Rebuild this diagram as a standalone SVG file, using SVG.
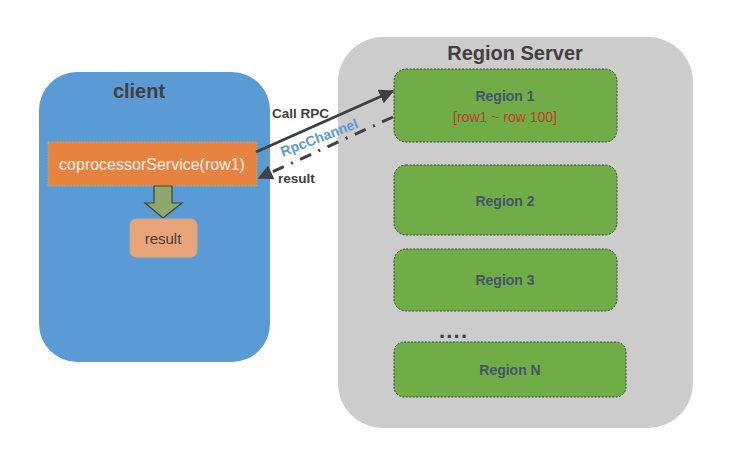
<svg xmlns="http://www.w3.org/2000/svg" width="740" height="450" viewBox="0 0 740 450">
<defs>
<style>
.t{font-family:"Liberation Sans",Arial,sans-serif;}
.rg{fill:#70ad47;stroke:#3f3f3f;stroke-width:1;stroke-dasharray:2 1.5;}
.rt{font-family:"Liberation Sans",Arial,sans-serif;font-size:14px;font-weight:bold;fill:#44546a;text-anchor:middle;}
.lbl{font-family:"Liberation Sans",Arial,sans-serif;font-size:13.5px;font-weight:bold;fill:#404040;}
</style>
<marker id="ah" viewBox="0 0 10 10" refX="9" refY="5" markerWidth="5" markerHeight="5" orient="auto">
<path d="M0,0 L10,5 L0,10 z" fill="#404040"/>
</marker>
</defs>
<rect width="740" height="450" fill="#ffffff"/>
<g id="client">
<rect x="39" y="72" width="231" height="290" rx="38" fill="#5b9bd5"/>
<text class="t" x="139" y="98" font-size="20" font-weight="bold" fill="#404040" text-anchor="middle">client</text>
</g>
<g id="coprocessorService">
<rect x="48" y="142" width="209" height="44" fill="#e8833f" stroke="#a8c070" stroke-width="0.8" stroke-dasharray="1.5 1.5"/>
<text class="t" x="152" y="170" font-size="16" fill="#f2f2f2" text-anchor="middle">coprocessorService(row1)</text>
</g>
<g id="down-arrow">
<path d="M154,186 L172,186 L172,203 L182,203 L163,218 L145,203 L154,203 Z" fill="#8fa86a" stroke="#404040" stroke-width="1.2"/>
</g>
<g id="result">
<rect x="130" y="219" width="67" height="38" rx="6" fill="#eaa479" stroke="#c9b080" stroke-width="0.8"/>
<text class="t" x="163" y="244" font-size="15" fill="#404040" text-anchor="middle">result</text>
</g>
<g id="region-server">
<rect x="338" y="37" width="355" height="391" rx="45" fill="#cccccc"/>
<text class="t" x="515" y="60" font-size="20" font-weight="bold" fill="#404040" text-anchor="middle">Region Server</text>
</g>
<g id="region1">
<rect class="rg" x="394" y="69" width="223" height="73" rx="12"/>
<text class="rt" x="505" y="101">Region 1</text>
<text class="t" x="505" y="122" font-size="14" fill="#c0392b" text-anchor="middle">[row1 ~ row 100]</text>
</g>
<g id="region2">
<rect class="rg" x="394" y="165" width="223" height="70" rx="12"/>
<text class="rt" x="505" y="206">Region 2</text>
</g>
<g id="region3">
<rect class="rg" x="394" y="249" width="223" height="62" rx="12"/>
<text class="rt" x="505" y="285">Region 3</text>
</g>
<g id="dots">
<text class="t" x="439" y="338" font-size="22" font-weight="bold" letter-spacing="1.2" fill="#404040">....</text>
</g>
<g id="regionN">
<rect class="rg" x="394" y="342" width="232" height="55" rx="10"/>
<text class="rt" x="510" y="375">Region N</text>
</g>
<g id="connectors">
<line x1="256" y1="152" x2="393" y2="91" stroke="#404040" stroke-width="3" marker-end="url(#ah)"/>
<line x1="393" y1="117" x2="259" y2="178" stroke="#404040" stroke-width="3" stroke-dasharray="12 8 2 8" marker-end="url(#ah)"/>
<text class="lbl" x="272" y="118">Call RPC</text>
<text class="lbl" x="278" y="183">result</text>
<text class="t" x="0" y="0" font-size="14" font-weight="bold" fill="#5b9bd5" text-anchor="middle" transform="translate(321,142) rotate(-21)">RpcChannel</text>
</g>
</svg>
